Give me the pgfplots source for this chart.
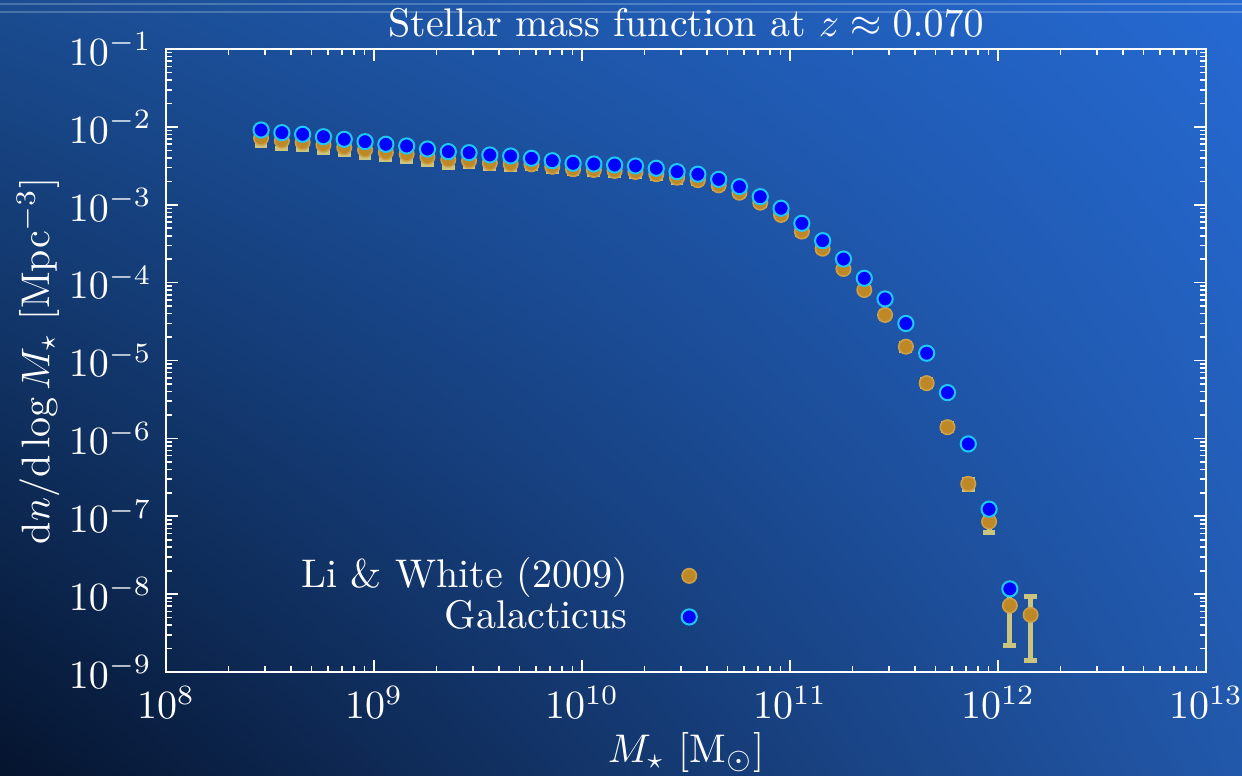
\documentclass[border=0pt]{standalone}
\usepackage{pgfplots}
\pgfplotsset{compat=1.18}
\usepackage{pgfplotstable}
\usetikzlibrary{shadings}
\definecolor{bgLL}{RGB}{5,20,46}
\definecolor{bgLR}{RGB}{34,88,170}
\definecolor{bgUL}{RGB}{26,76,145}
\definecolor{bgUR}{RGB}{37,105,210}
\definecolor{lwfill}{RGB}{190,136,38}
\definecolor{lwdraw}{RGB}{205,160,70}
\definecolor{khaki}{RGB}{202,196,126}
\definecolor{galfill}{RGB}{0,0,255}
\definecolor{galdraw}{RGB}{30,200,255}

\pgfplotstableread{
x y ey
2.864e8 7.21e-3 1.44e-3
3.606e8 6.65e-3 1.33e-3
4.539e8 6.34e-3 1.27e-3
5.715e8 5.90e-3 1.18e-3
7.194e8 5.46e-3 1.09e-3
9.057e8 5.08e-3 1.02e-3
1.140e9 4.71e-3 0.94e-3
1.435e9 4.49e-3 0.90e-3
1.807e9 4.11e-3 0.82e-3
2.275e9 3.79e-3 0.76e-3
2.864e9 3.68e-3 0.55e-3
3.606e9 3.44e-3 0.52e-3
4.539e9 3.34e-3 0.50e-3
5.715e9 3.31e-3 0.40e-3
7.194e9 3.08e-3 0.37e-3
9.057e9 2.86e-3 0.34e-3
1.140e10 2.80e-3 0.34e-3
1.435e10 2.72e-3 0.33e-3
1.807e10 2.64e-3 0.32e-3
2.275e10 2.47e-3 0.30e-3
2.864e10 2.23e-3 0.27e-3
3.606e10 2.07e-3 0.17e-3
4.539e10 1.778e-3 0.14e-3
5.715e10 1.429e-3 0.11e-3
7.194e10 1.064e-3 0.085e-3
9.057e10 7.41e-4 0.59e-4
1.140e11 4.53e-4 0.36e-4
1.435e11 2.73e-4 0.22e-4
1.807e11 1.50e-4 0.12e-4
2.275e11 8.05e-5 0.64e-5
2.864e11 3.85e-5 3.9e-6
3.606e11 1.507e-5 1.5e-6
4.539e11 5.12e-6 5.1e-7
5.715e11 1.393e-6 1.4e-7
7.194e11 2.61e-7 3.9e-8
9.057e11 8.55e-8 2.3e-8
1.140e12 7.14e-9 4.95e-9
1.435e12 5.42e-9 4.0e-9
}\lwdata

\pgfplotstableread{
x y
2.864e8 9.12e-3
3.606e8 8.43e-3
4.539e8 8.04e-3
5.715e8 7.48e-3
7.194e8 6.93e-3
9.057e8 6.46e-3
1.140e9 5.98e-3
1.435e9 5.69e-3
1.807e9 5.20e-3
2.275e9 4.81e-3
2.864e9 4.67e-3
3.606e9 4.36e-3
4.539e9 4.23e-3
5.715e9 3.954e-3
7.194e9 3.68e-3
9.057e9 3.41e-3
1.140e10 3.34e-3
1.435e10 3.24e-3
1.807e10 3.15e-3
2.275e10 2.94e-3
2.864e10 2.66e-3
3.606e10 2.47e-3
4.539e10 2.12e-3
5.715e10 1.71e-3
7.194e10 1.27e-3
9.057e10 9.02e-4
1.140e11 5.78e-4
1.435e11 3.46e-4
1.807e11 2.01e-4
2.275e11 1.138e-4
2.864e11 6.18e-5
3.606e11 2.99e-5
4.539e11 1.242e-5
5.715e11 3.873e-6
7.194e11 8.49e-7
9.057e11 1.233e-7
1.140e12 1.169e-8
}\galdata

\begin{document}
\begin{tikzpicture}
\shade[lower left=bgLL, lower right=bgLR, upper left=bgUL, upper right=bgUR] (0,0) rectangle (310.5pt,193.75pt);
\draw[white, opacity=0.22, line width=0.5pt] (0,192.75pt) -- (310.5pt,192.75pt);
\draw[white, opacity=0.22, line width=0.5pt] (0,190.75pt) -- (310.5pt,190.75pt);
\begin{axis}[
  at={(41.5pt,25.75pt)}, anchor=south west,
  scale only axis, width=260pt, height=155.75pt,
  xmode=log, ymode=log,
  xmin=1e8, xmax=1e13, ymin=1e-9, ymax=1e-1,
  xtick={1e8,1e9,1e10,1e11,1e12,1e13},
  ytick={1e-9,1e-8,1e-7,1e-6,1e-5,1e-4,1e-3,1e-2,1e-1},
  axis line style={white},
  every tick/.style={white},
  major tick length=3pt, minor tick length=1.5pt,
  tick label style={text=white},
  label style={text=white},
  title style={text=white, yshift=-6.5pt},
  title={Stellar mass function at $z\approx0.070$},
  xlabel={$M_\star$ [M$_\odot$]},
  xlabel style={yshift=3.5pt},
  ylabel={$\mathrm{d}n/\mathrm{d}\log M_\star$ [Mpc$^{-3}$]},
  ylabel shift=-4.5pt,
  legend style={draw=none, fill=none, text=white, at={(0.5227,0.034)}, anchor=south east, row sep=-2.5pt, column sep=11.5pt},
  legend cell align=right,
  legend plot pos=right,
]
\addplot[only marks, mark=*, mark size=1.8pt,
  mark options={fill=lwfill, draw=lwdraw, line width=0.4pt},
  error bars/.cd, y dir=both, y explicit,
  error bar style={color=khaki, line width=1.25pt},
  error mark options={color=khaki, line width=1.25pt, mark size=1.6pt, rotate=90}]
  table[x=x, y=y, y error=ey] {\lwdata};
\addlegendentry{Li \& White (2009)}
\addplot[only marks, mark=*, mark size=1.9pt,
  mark options={fill=galfill, draw=galdraw, line width=0.5pt}]
  table[x=x, y=y] {\galdata};
\addlegendentry{Galacticus}
\end{axis}
\pgfresetboundingbox
\useasboundingbox (0,0) rectangle (310.5pt,193.75pt);
\end{tikzpicture}
\end{document}
